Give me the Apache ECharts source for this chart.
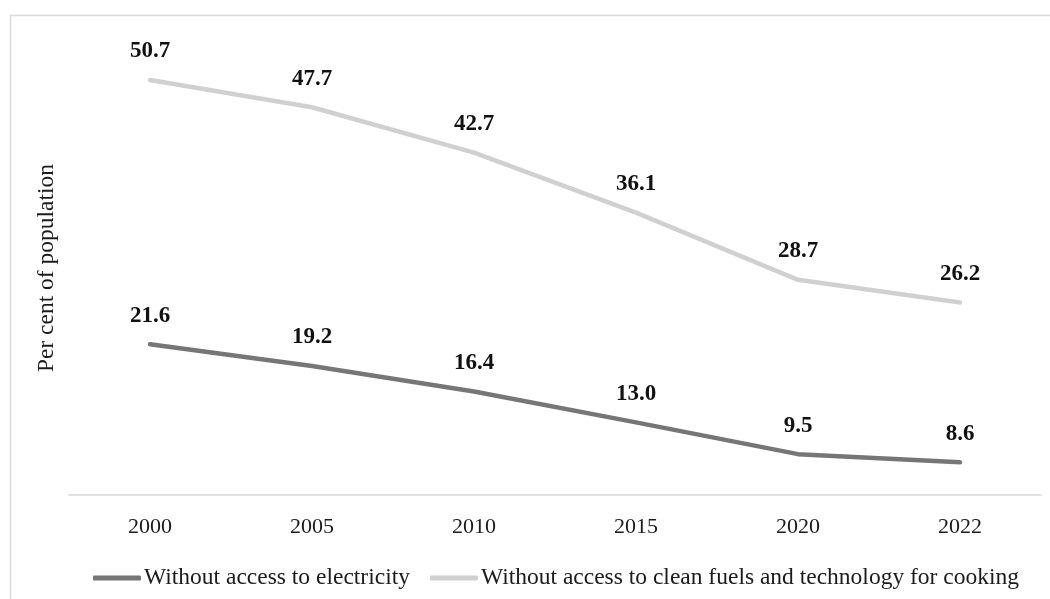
<!DOCTYPE html>
<html>
<head>
<meta charset="utf-8">
<script src="https://cdn.jsdelivr.net/npm/echarts@6/dist/echarts.min.js"></script>
<style>
  html, body { margin: 0; padding: 0; background: #ffffff; }
  #chart { width: 1050px; height: 599px; }
</style>
</head>
<body>
<div id="chart"></div>
<script>
// Population shares without access to basic energy services
const years = ['2000', '2005', '2010', '2015', '2020', '2022'];
const electricity = [21.6, 19.2, 16.4, 13.0, 9.5, 8.6];
const cleanCooking = [50.7, 47.7, 42.7, 36.1, 28.7, 26.2];
const seriesNames = ['Without access to electricity', 'Without access to clean fuels and technology for cooking'];

const serif = '"Liberation Serif", "Times New Roman", serif';
const chart = echarts.init(document.getElementById('chart'), null, { renderer: 'canvas' });

function lineSeries(name, data, color) {
  return {
    name: name,
    type: 'line',
    data: data,
    symbol: 'circle',
    symbolSize: 0.1,
    showSymbol: true,
    lineStyle: { color: color, width: 4.5, cap: 'round', join: 'round' },
    itemStyle: { color: color },
    label: {
      show: true,
      position: 'top',
      distance: 17,
      fontFamily: serif,
      fontWeight: 'bold',
      fontSize: 23,
      color: '#111111',
      formatter: p => Number(p.value).toFixed(1)
    },
    labelLayout: { hideOverlap: false },
    emphasis: { disabled: true }
  };
}

chart.setOption({
  animation: false,
  backgroundColor: '#ffffff',
  graphic: [{
    type: 'rect',
    shape: { x: 10.5, y: 15.5, width: 1060, height: 620 },
    style: { fill: 'none', stroke: '#d9d9d9', lineWidth: 1.5 },
    silent: true
  }],
  grid: { left: 69, right: 9, top: 41, bottom: 104 },
  legend: {
    bottom: 4,
    left: 88,
    itemWidth: 48,
    itemHeight: 5,
    itemGap: 20,
    icon: 'roundRect',
    textStyle: { fontFamily: serif, fontSize: 23.5, color: '#1a1a1a', padding: [0, 0, 0, -2] },
    data: seriesNames
  },
  xAxis: {
    type: 'category',
    data: years,
    boundaryGap: true,
    axisLine: { lineStyle: { color: '#d9d9d9', width: 1.5 } },
    axisTick: { show: false },
    axisLabel: { fontFamily: serif, fontSize: 22, color: '#1a1a1a', margin: 21 }
  },
  yAxis: {
    type: 'value',
    min: 5,
    max: 55,
    name: 'Per cent of population',
    nameLocation: 'middle',
    nameRotate: 90,
    nameGap: 10,
    nameTextStyle: { fontFamily: serif, fontSize: 23.5, color: '#1a1a1a' },
    axisLine: { show: false },
    axisTick: { show: false },
    axisLabel: { show: false },
    splitLine: { show: false }
  },
  series: [
    lineSeries(seriesNames[0], electricity, '#767676'),
    lineSeries(seriesNames[1], cleanCooking, '#d0d0d0')
  ]
});
</script>
</body>
</html>
